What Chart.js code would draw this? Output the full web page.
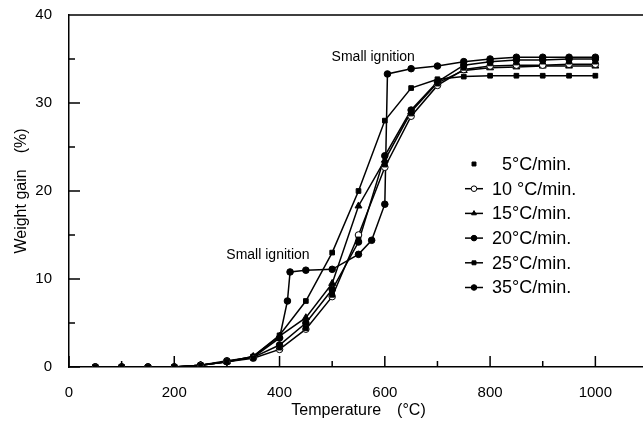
<!DOCTYPE html>
<html>
<head>
<meta charset="utf-8">
<script src="https://cdn.jsdelivr.net/npm/chart.js@4.4.1/dist/chart.umd.min.js"></script>
<style>
  html, body { margin: 0; padding: 0; background: #fff; overflow: hidden; }
  #wrap { width: 700px; height: 427px; }
</style>
</head>
<body>
<div id="wrap"><canvas id="chart" width="700" height="427"></canvas></div>
<script>
"use strict";

// temperatures (°C) shared by most series
var temps = [50, 100, 150, 200, 250, 300, 350, 400, 450, 500, 550, 600, 650, 700, 750, 800, 850, 900, 950, 1000];

// weight gain (%) per heating rate
var rate5  = [0, 0, 0, 0, 0.2, 0.6, 1.0, 2.2, 4.4, 8.2, 14.5, 23.0, 28.8, 32.2, 34.0, 34.5, 34.6, 34.7, 34.7, 34.7];
var rate10 = [0, 0, 0, 0, 0.2, 0.6, 1.0, 2.0, 4.3, 8.0, 15.0, 22.7, 28.5, 32.0, 33.8, 34.2, 34.3, 34.3, 34.4, 34.4];
var rate15 = [0, 0, 0, 0, 0.2, 0.6, 1.2, 3.5, 5.6, 9.5, 18.3, 23.5, 29.0, 32.3, 33.7, 34.0, 34.1, 34.2, 34.2, 34.2];
var rate20 = [0, 0, 0, 0, 0.2, 0.6, 1.1, 2.5, 5.0, 8.8, 14.2, 24.0, 29.2, 32.4, 34.3, 34.7, 34.9, 34.9, 35.0, 35.0];
var rate25 = [0, 0, 0, 0, 0.2, 0.6, 1.2, 3.6, 7.5, 13.0, 20.0, 28.0, 31.7, 32.7, 33.0, 33.1, 33.1, 33.1, 33.1, 33.1];

// 35 °C/min has its own temperature points (ignition steps)
var temps35 = [50, 100, 150, 200, 250, 300, 350, 400, 415, 420, 450, 500, 550, 575, 600, 605, 650, 700, 750, 800, 850, 900, 950, 1000];
var rate35  = [0, 0, 0, 0, 0.2, 0.7, 1.1, 3.3, 7.5, 10.8, 11.0, 11.1, 12.8, 14.4, 18.5, 33.3, 33.9, 34.2, 34.7, 35.0, 35.2, 35.2, 35.2, 35.2];

var seriesLabels = ["\u20075\u00b0C/min.", "10 \u00b0C/min.", "15\u00b0C/min.", "20\u00b0C/min.", "25\u00b0C/min.", "35\u00b0C/min."];

var annoText = ["Small ignition", "Small ignition"];
var annoX = [378, 578];
var annoY = [12.7, 35.2];

function pairs(xs, ys) {
  return xs.map(function (x, i) { return { x: x, y: ys[i] }; });
}

var FONT = "'Liberation Sans', Arial, sans-serif";

function makeSet(label, data, style, fill, showLine) {
  return {
    label: label,
    data: data,
    showLine: showLine,
    borderColor: "#000",
    backgroundColor: fill,
    borderWidth: 1.5,
    pointStyle: style,
    pointRadius: style === "triangle" ? 4 : 3.3,
    pointBorderColor: "#000",
    pointBackgroundColor: fill,
    pointBorderWidth: 1,
    tension: 0
  };
}

var datasets = [
  makeSet(seriesLabels[0], pairs(temps, rate5), "rect", "#000", false),
  makeSet(seriesLabels[1], pairs(temps, rate10), "circle", "#fff", true),
  makeSet(seriesLabels[2], pairs(temps, rate15), "triangle", "#000", true),
  makeSet(seriesLabels[3], pairs(temps, rate20), "circle", "#000", true),
  makeSet(seriesLabels[4], pairs(temps, rate25), "rect", "#000", true),
  makeSet(seriesLabels[5], pairs(temps35, rate35), "circle", "#000", true)
];

// inward ticks, top frame line, notes and legend
var decorPlugin = {
  id: "decor",
  afterDraw: function (chart) {
    var ctx = chart.ctx;
    var area = chart.chartArea;
    var xs = chart.scales.x;
    var ys = chart.scales.y;
    ctx.save();
    ctx.strokeStyle = "#000";
    ctx.lineWidth = 1.5;
    ctx.beginPath();
    ctx.moveTo(area.left, area.top);
    ctx.lineTo(area.right, area.top);
    for (var t = 0; t <= 1100; t += 100) {
      var px = xs.getPixelForValue(t);
      var len = t % 200 === 0 ? 11 : 6;
      ctx.moveTo(px, area.bottom);
      ctx.lineTo(px, area.bottom - len);
    }
    for (var v = 0; v <= 40; v += 5) {
      var py = ys.getPixelForValue(v);
      var l2 = v % 10 === 0 ? 11 : 6;
      ctx.moveTo(area.left, py);
      ctx.lineTo(area.left + l2, py);
    }
    ctx.stroke();

    ctx.fillStyle = "#000";
    ctx.font = "14px " + FONT;
    ctx.textAlign = "center";
    ctx.textBaseline = "middle";
    for (var i = 0; i < annoText.length; i++) {
      ctx.fillText(annoText[i], xs.getPixelForValue(annoX[i]), ys.getPixelForValue(annoY[i]));
    }

    // legend
    var lx = 465, ly = 164, step = 24.7;
    ctx.font = "18px " + FONT;
    ctx.textAlign = "left";
    chart.data.datasets.forEach(function (ds, k) {
      var y = ly + k * step;
      ctx.strokeStyle = "#000";
      if (ds.showLine) {
        ctx.lineWidth = 1.5;
        ctx.beginPath();
        ctx.moveTo(lx, y);
        ctx.lineTo(lx + 18, y);
        ctx.stroke();
      }
      ctx.fillStyle = ds.pointBackgroundColor;
      ctx.lineWidth = 1;
      Chart.helpers.drawPoint(ctx, {
        pointStyle: ds.pointStyle,
        radius: 2.8,
        borderWidth: 1
      }, lx + 9, y);
      ctx.fillStyle = "#000";
      ctx.fillText(ds.label, lx + 27, y + 1);
    });
    ctx.restore();
  }
};

new Chart(document.getElementById("chart"), {
  type: "scatter",
  data: { datasets: datasets },
  plugins: [decorPlugin],
  options: {
    responsive: false,
    animation: false,
    layout: { padding: { top: 15, right: 52, left: 0, bottom: 0 } },
    plugins: {
      legend: { display: false },
      tooltip: { enabled: false }
    },
    scales: {
      x: {
        type: "linear",
        min: 0,
        max: 1100,
        grid: { display: false, drawTicks: false },
        border: { display: true, color: "#000", width: 1.5 },
        ticks: {
          stepSize: 100,
          padding: 17,
          maxRotation: 0,
          color: "#000",
          font: { family: FONT, size: 15 },
          callback: function (v) { return v % 200 === 0 && v <= 1000 ? String(v) : null; }
        },
        title: {
          display: true,
          text: "Temperature\u3000(\u00b0C)",
          color: "#000",
          font: { family: FONT, size: 16 },
          padding: { top: 0, bottom: 7 }
        },
        afterFit: function (s) {
          s.height = 60;
          s.paddingLeft = 0;
          s.paddingRight = 0;
        }
      },
      y: {
        min: 0,
        max: 40,
        grid: { display: false, drawTicks: false },
        border: { display: true, color: "#000", width: 1.5 },
        ticks: {
          stepSize: 5,
          padding: 17,
          color: "#000",
          font: { family: FONT, size: 15 },
          callback: function (v) { return v % 10 === 0 ? String(v) : null; }
        },
        title: {
          display: true,
          text: "Weight gain\u3000(%)",
          color: "#000",
          font: { family: FONT, size: 16 },
          padding: { top: 12, bottom: 0 }
        },
        afterFit: function (s) {
          s.width = 69;
          s.paddingTop = 0;
          s.paddingBottom = 0;
        }
      }
    }
  }
});
</script>
</body>
</html>
